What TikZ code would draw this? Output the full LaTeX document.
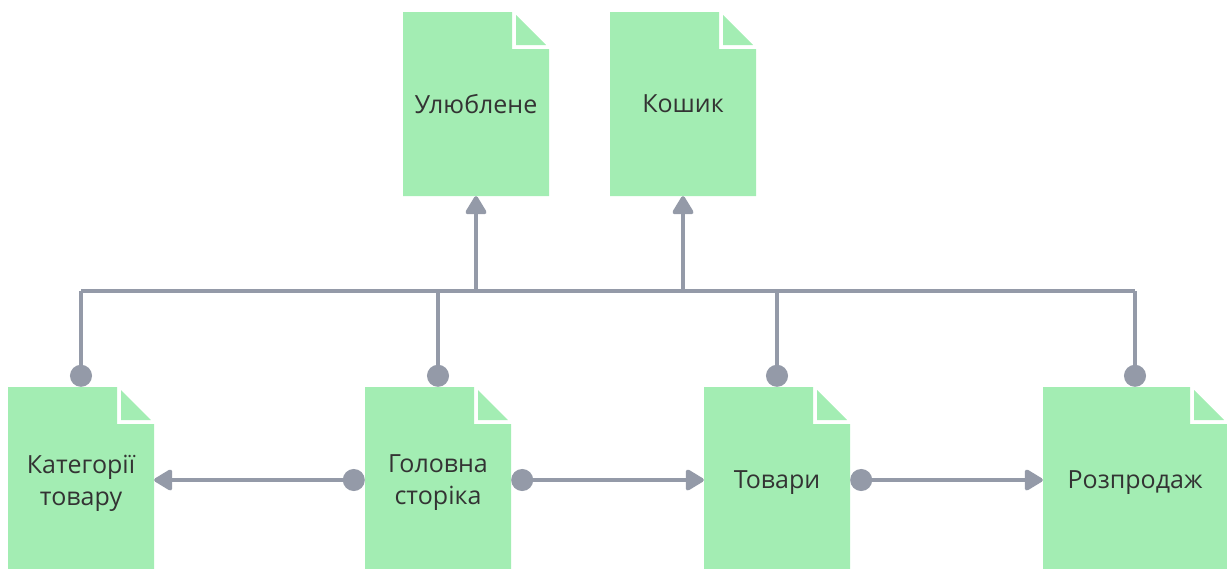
\documentclass[tikz,border=0pt]{standalone}
\usepackage{fontspec}
\setmainfont{Open Sans}
\usetikzlibrary{arrows.meta}

\definecolor{leaf}{HTML}{A3EDB3}
\definecolor{wire}{HTML}{949AA8}
\definecolor{ink}{HTML}{333333}

\tikzset{
    page/.style={minimum width=146pt, minimum height=184pt, inner sep=0pt,
        align=center, text=ink, font=\fontsize{25}{32}\selectfont,
        path picture={
            % sheet with the corner cut out
            \fill[leaf] (path picture bounding box.south west)
                |- ([xshift=-37pt]path picture bounding box.north east)
                -- ++(0pt,-37pt) -| (path picture bounding box.south east) -- cycle;
            % folded corner
            \fill[leaf] ([xshift=-33pt,yshift=-3pt]path picture bounding box.north east)
                -- ++(0pt,-30pt) -- ++(30pt,0pt) -- cycle;
        }},
    low/.style={minimum height=192pt},
    link/.style={draw=wire, line width=4pt},
    dot/.tip={Circle[length=22pt]},
    head/.tip={Triangle[width=23pt,length=20pt,round]}
}

\begin{document}
\begin{tikzpicture}[x=1pt,y=-1pt]
        \useasboundingbox (0,0) rectangle (1227,568);
        \clip (0,0) rectangle (1227,568);
        % Pages
        \node[page] (fav) at (476,104) {Улюблене};
        \node[page] (cart) at (683,104) {Кошик};
        \node[page, low] (cat) at (81,483) {Категорії\\товару};
        \node[page, low] (home) at (438,483) {Головна\\сторіка};
        \node[page, low] (goods) at (777,483) {Товари};
        \node[page, low, minimum width=184pt] (sale) at (1135,483) {Розпродаж};
        \coordinate (bus) at (0,291);
        % Common line
        \draw[link] (cat.north |- bus) -- (sale.north |- bus);
        \foreach \p in {cat, home, goods, sale}
            \draw[link, dot-] (\p.north) -- (\p.north |- bus);
        \foreach \p in {fav, cart}
            \draw[link, -head] (\p.south |- bus) -- (\p.south);
        % Links between pages
        \draw[link, dot-head] ([yshift=3pt]home.west) -- ([yshift=3pt]cat.east);
        \draw[link, dot-head] ([yshift=3pt]home.east) -- ([yshift=3pt]goods.west);
        \draw[link, dot-head] ([yshift=3pt]goods.east) -- ([yshift=3pt]sale.west);
    \end{tikzpicture}
\end{document}
